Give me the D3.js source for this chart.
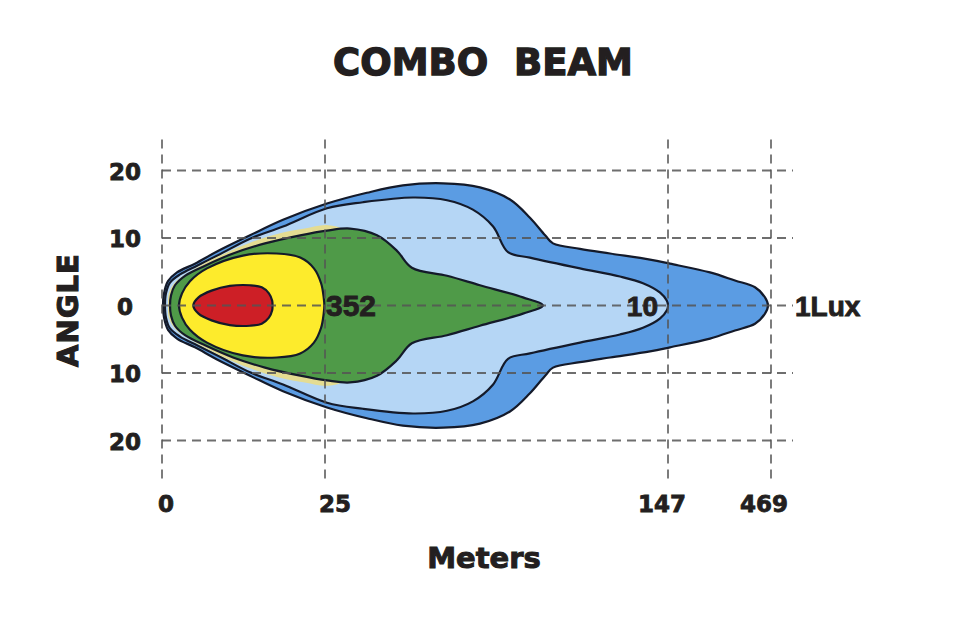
<!DOCTYPE html>
<html>
<head>
<meta charset="utf-8">
<script src="https://cdn.jsdelivr.net/npm/d3@7"></script>
<style>
  body { margin: 0; background: #fff; }
  text { fill: #231f20; stroke: #231f20; font-weight: bold; }
</style>
</head>
<body>
<div id="beam-chart"></div>
<script>
// axis ticks
var meterTicks = [0, 25, 147, 469];
var angleTicks = [20, 10, 0, -10, -20];

// iso-lux outlines, upper half only: [meters, angle]
var oneLux = [[0.15,0],[0.31,1.8],[0.92,3.6],[2.3,4.9],[5.06,6.2],[8.44,8.0],[13.5,10.4],[18.56,12.7],
  [25.7,15.1],[39.9,16.7],[52.7,17.8],[67.0,18.1],[80.1,17.5],[90.8,15.7],[97.9,13.0],[103.3,10.4],
  [106.1,9.2],[115.7,8.4],[126.4,7.7],[140.6,6.8],[153.3,6.2],[278.3,4.9],[356.4,3.7],[419,2.7],
  [450.2,1.2],[459.6,0]];
var tenLux = [[0.46,0],[0.61,1.8],[1.23,3.4],[2.76,4.6],[5.37,5.9],[8.9,7.6],[13.5,9.9],[18.56,11.7],
  [25.7,14.4],[38.5,15.3],[56.3,16.0],[68.4,15.6],[77.6,14.2],[84.8,11.7],[90.1,7.9],[97.9,7.1],
  [115.7,5.5],[129.9,4.3],[138.1,3.3],[144.2,1.9],[146.6,0.7],[147,0]];
var paleBand = [[0.92,0],[1.07,1.9],[2.15,3.6],[4.6,5.2],[8.9,7.4],[13.5,9.3],[18.1,10.7],[21.9,11.4],
  [26.1,11.9],[32.1,11.0],[34.6,5.9],[34.96,0]];
var greenZone = [[1.23,0],[1.38,1.5],[1.99,3.0],[3.53,4.4],[6.6,5.9],[10.9,7.7],[15.8,9.2],[21.2,10.4],
  [25.7,11.1],[33.9,11.4],[43.5,10.4],[50.6,8.1],[55.9,5.6],[68.4,4.4],[80.1,3.0],[95.4,1.2],[102.5,0]];
var yellowZone = [[2.61,0],[3.07,1.8],[4.29,3.6],[6.9,5.5],[12.4,7.4],[17.6,7.7],[21.2,7.1],[23.3,5.5],
  [24.4,3.3],[24.8,1.2],[24.9,0]];
var redZone = [[4.8,0],[5.6,1.2],[7.6,2.2],[10.4,2.9],[13.5,3.0],[15.3,2.7],[16.4,1.8],[16.9,0.7],[16.95,0]];

var zoneNames = ["1", "10", "band", "green", "yellow", "red"];
var zoneColors = ["#5b9ce3", "#b5d6f5", "#e4dc92", "#4f9a48", "#fdeb2c", "#cd1f26"];

var luxLabels = ["352", "10", "1Lux"];
var luxAt = [25, 147, 469];

var width = 960, height = 617;

var svg = d3.select("#beam-chart").append("svg")
  .attr("width", width)
  .attr("height", height);

var x = d3.scaleLinear().domain(meterTicks).range([162, 325, 668, 771]);
var y = d3.scaleLinear().domain([-20, 20]).range([440.5, 170.5]);

// mirror the upper half to get the full closed outline
function fullOutline(half) {
  var lower = half.slice(1, -1).reverse().map(function(p) { return [p[0], -p[1]]; });
  return half.concat(lower);
}

var line = d3.line()
  .x(function(d) { return x(d[0]); })
  .y(function(d) { return y(d[1]); })
  .curve(d3.curveCatmullRomClosed.alpha(0.5));

var zones = [oneLux, tenLux, paleBand, greenZone, yellowZone, redZone];

svg.append("g").selectAll("path")
  .data(zones)
  .enter().append("path")
    .attr("d", function(d) { return line(fullOutline(d)); })
    .style("fill", function(d, i) { return zoneColors[i]; })
    .style("stroke", function(d, i) { return zoneNames[i] == "band" ? "none" : "#141a2a"; })
    .style("stroke-width", 2.2)
    .style("stroke-linejoin", "round");

// dashed grid on top
var grid = svg.append("g")
  .style("stroke", "#555")
  .style("stroke-opacity", 0.85)
  .style("stroke-width", 1.8)
  .style("stroke-dasharray", "9,6");

grid.selectAll(".hline")
  .data(angleTicks)
  .enter().append("line")
    .attr("class", "hline")
    .attr("x1", x(0))
    .attr("x2", x(469) + 22)
    .attr("y1", function(d) { return y(d); })
    .attr("y2", function(d) { return y(d); });

grid.selectAll(".vline")
  .data(meterTicks)
  .enter().append("line")
    .attr("class", "vline")
    .attr("x1", function(d) { return x(d); })
    .attr("x2", function(d) { return x(d); })
    .attr("y1", y(20) - 31)
    .attr("y2", y(-20) + 40);

// tick labels
svg.selectAll(".ytick")
  .data(angleTicks)
  .enter().append("text")
    .attr("class", "ytick")
    .attr("x", 125)
    .attr("y", function(d) { return y(d) + 9; })
    .attr("text-anchor", "middle")
    .style("font-family", "DejaVu Sans")
    .style("font-size", "23px")
    .style("stroke-width", 0.8)
    .text(function(d) { return Math.abs(d); });

// labels sit a little off their grid lines in the original
var xLabelNudge = [4, 10, -6, -7];
svg.selectAll(".xtick")
  .data(meterTicks)
  .enter().append("text")
    .attr("class", "xtick")
    .attr("x", function(d, i) { return x(d) + xLabelNudge[i]; })
    .attr("y", 512)
    .attr("text-anchor", "middle")
    .style("font-family", "DejaVu Sans")
    .style("font-size", "23px")
    .style("stroke-width", 0.8)
    .text(function(d) { return d; });

// lux labels
svg.selectAll(".lux")
  .data(luxLabels)
  .enter().append("text")
    .attr("class", "lux")
    .attr("x", function(d, i) {
      if (i == 0) return x(luxAt[i]) + 1;
      if (i == 1) return x(luxAt[i]) - 10;
      return x(luxAt[i]) + 24;
    })
    .attr("y", y(0) + 10)
    .attr("text-anchor", function(d, i) { return i == 1 ? "end" : "start"; })
    .style("font-family", "Liberation Sans")
    .style("font-size", function(d, i) { return i == 0 ? "30px" : "28px"; })
    .style("stroke-width", 0.9)
    .text(function(d) { return d; });

// titles
svg.append("text")
  .attr("x", 483)
  .attr("y", 75)
  .attr("text-anchor", "middle")
  .style("font-family", "DejaVu Sans")
  .style("font-size", "37px")
  .style("stroke-width", 1.3)
  .style("white-space", "pre")
  .text("COMBO  BEAM");

svg.append("text")
  .attr("x", 484)
  .attr("y", 568)
  .attr("text-anchor", "middle")
  .style("font-family", "DejaVu Sans")
  .style("font-size", "29px")
  .style("stroke-width", 1)
  .text("Meters");

svg.append("text")
  .attr("transform", "translate(78,310) rotate(-90)")
  .attr("text-anchor", "middle")
  .style("font-family", "DejaVu Sans")
  .style("font-size", "29px")
  .style("stroke-width", 1.1)
  .style("letter-spacing", "1px")
  .text("ANGLE");
</script>
</body>
</html>
